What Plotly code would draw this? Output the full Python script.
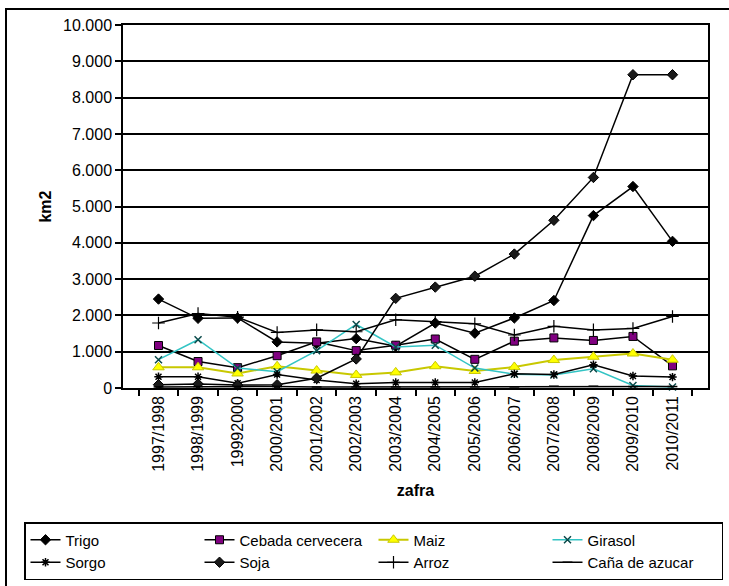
import plotly.graph_objects as go

zafras = ["1997/1998", "1998/1999", "19992000", "2000/2001", "2001/2002", "2002/2003",
          "2003/2004", "2004/2005", "2005/2006", "2006/2007", "2007/2008", "2008/2009",
          "2009/2010", "2010/2011"]

trigo = [2450, 1920, 1930, 1270, 1230, 1360, 1150, 1790, 1510, 1930, 2410, 4750, 5550, 4040]
cebada = [1170, 730, 560, 890, 1270, 1030, 1180, 1350, 790, 1290, 1380, 1310, 1420, 610]
maiz = [570, 570, 400, 600, 480, 360, 430, 600, 470, 580, 770, 860, 950, 780]
girasol = [780, 1330, 550, 450, 1030, 1750, 1130, 1180, 550, 380, 360, 530, 70, 30]
sorgo = [310, 310, 130, 370, 220, 120, 150, 150, 150, 390, 370, 640, 330, 300]
soja = [90, 110, 80, 90, 270, 800, 2470, 2780, 3080, 3690, 4620, 5800, 8630, 8630]
arroz = [1790, 2050, 1950, 1530, 1600, 1550, 1880, 1830, 1770, 1460, 1700, 1600, 1640, 1970]
cana = [30, 40, 40, 40, 30, 30, 30, 30, 30, 30, 50, 50, 40, 40]

FONT = "Liberation Sans, Arial, sans-serif"
FS = 16

series = [
    ("Trigo", trigo, dict(color="black", width=1.5),
     dict(symbol="diamond", size=8, color="black", line=dict(color="black", width=1))),
    ("Cebada cervecera", cebada, dict(color="black", width=1.5),
     dict(symbol="square", size=8, color="#800080", line=dict(color="black", width=1))),
    ("Maiz", maiz, dict(color="#c8c800", width=2),
     dict(symbol="triangle-up", size=10, color="#ffff00", line=dict(color="#c8c800", width=1))),
    ("Girasol", girasol, dict(color="#33c4c4", width=1.5),
     dict(symbol="x-thin", size=7, color="#0b4a4a", line=dict(color="#0b4a4a", width=1.5))),
    ("Sorgo", sorgo, dict(color="black", width=1.5),
     dict(symbol="asterisk", size=7, color="black", line=dict(color="black", width=1.5))),
    ("Soja", soja, dict(color="black", width=1.5),
     dict(symbol="diamond", size=8, color="#1a1a1a", line=dict(color="black", width=1))),
    ("Arroz", arroz, dict(color="black", width=1.5),
     dict(symbol="cross-thin", size=9, color="black", line=dict(color="black", width=1.2))),
    ("Caña de azucar", cana, dict(color="black", width=1.5),
     dict(symbol="line-ew", size=7, color="black", line=dict(color="black", width=1.5))),
]

fig = go.Figure()
for name, vals, ln, mk in series:
    fig.add_trace(go.Scatter(x=zafras, y=vals, name=name, mode="lines+markers",
                             line=ln, marker=mk, cliponaxis=False))

W, H = 729, 586
L, R, T, B = 123, 21, 25, 198
pw, ph = W - L - R, H - T - B

def px(x):
    return (x - L) / pw

def py(y):
    return (H - B - y) / ph

fig.update_layout(
    width=W, height=H,
    margin=dict(l=L, r=R, t=T, b=B, autoexpand=False),
    paper_bgcolor="white", plot_bgcolor="white",
    separators=",.",
    font=dict(family=FONT, size=FS, color="black"),
    showlegend=True,
    legend=dict(orientation="h", x=px(24), y=py(522), xanchor="left", yanchor="top",
                xref="paper", yref="paper",
                entrywidth=129, entrywidthmode="pixels", itemwidth=30,
                bordercolor="black", borderwidth=1.5, bgcolor="white",
                font=dict(family=FONT, size=15, color="black"),
                tracegroupgap=0),
    xaxis=dict(type="category", showgrid=False, showline=True, linecolor="black",
               linewidth=1.5, mirror=True, ticks="outside", tickson="boundaries",
               ticklen=6, tickcolor="black", tickwidth=1.5, tickangle=-90,
               tickfont=dict(family=FONT, size=FS),
               title=dict(text="<b>zafra</b>", font=dict(family=FONT, size=FS), standoff=14)),
    yaxis=dict(range=[0, 10000], dtick=1000, tickformat=",d", showgrid=True,
               gridcolor="black", gridwidth=2, zeroline=False, showline=True,
               linecolor="black", linewidth=1.5, mirror=True, ticks="outside",
               ticklen=6, tickcolor="black", tickwidth=1.5,
               tickfont=dict(family=FONT, size=FS),
               title=dict(text="<b>km2</b>", font=dict(family=FONT, size=FS), standoff=8)),
    shapes=[
        dict(type="rect", xref="paper", yref="paper",
             x0=px(6), x1=px(W + 20), y0=py(H + 20), y1=py(9),
             line=dict(color="black", width=2), layer="below"),
    ],
)

fig.write_html("out.html")
